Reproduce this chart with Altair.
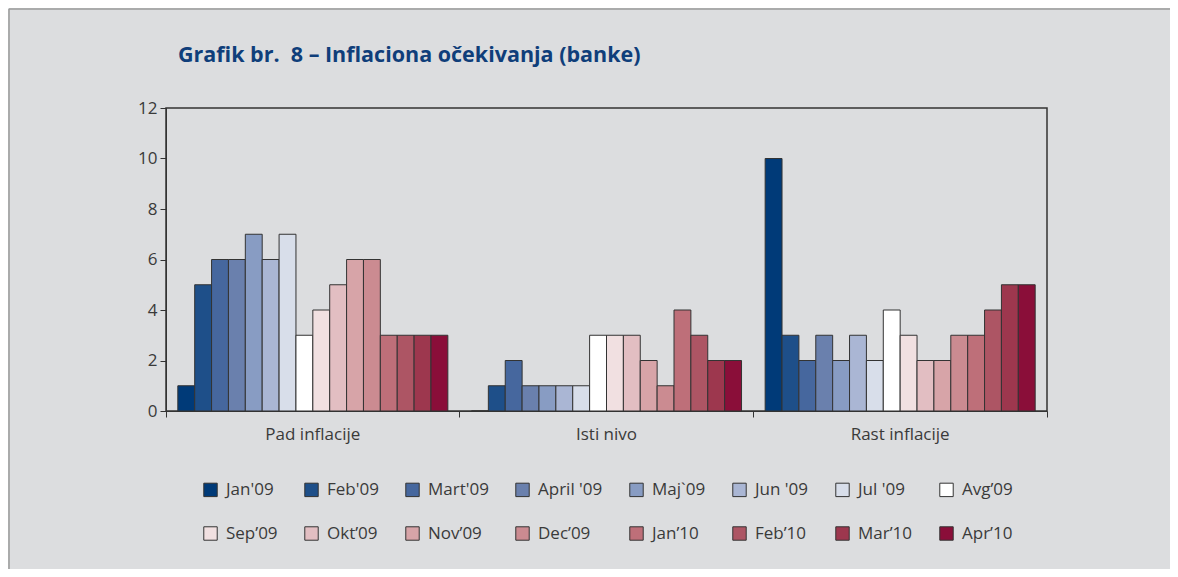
import altair as alt
import pandas as pd

categories = ["Pad inflacije", "Isti nivo", "Rast inflacije"]
series = ["Jan'09", "Feb'09", "Mart'09", "April '09", "Maj`09", "Jun '09", "Jul '09", "Avg’09",
          "Sep’09", "Okt’09", "Nov’09", "Dec’09", "Jan’10", "Feb’10", "Mar’10", "Apr’10"]
colors = ["#003a78", "#1e4f89", "#46679e", "#6a80ad", "#889cc3", "#aab6d4", "#d8deea", "#ffffff",
          "#f1e0e1", "#e2bec2", "#d7a4a8", "#cb8b91", "#be6f79", "#ad5564", "#9d374e", "#8a0e39"]
pad_inflacije = [1, 5, 6, 6, 7, 6, 7, 3, 4, 5, 6, 6, 3, 3, 3, 3]
isti_nivo = [0, 1, 2, 1, 1, 1, 1, 3, 3, 3, 2, 1, 4, 3, 2, 2]
rast_inflacije = [10, 3, 2, 3, 2, 3, 2, 4, 3, 2, 2, 3, 3, 4, 5, 5]
y_ticks = [0, 2, 4, 6, 8, 10, 12]
title_text = "Grafik br.\u00a0 8 – Inflaciona očekivanja (banke)"

rows = []
for cat, vals in zip(categories, [pad_inflacije, isti_nivo, rast_inflacije]):
    for s, v in zip(series, vals):
        rows.append({"kategorija": cat, "mjesec": s, "vrijednost": v})
df = pd.DataFrame(rows)

FONT = "Open Sans"
TXT = "#3a3a3a"

bars = alt.Chart(df).mark_bar(stroke="#333333", strokeWidth=1).encode(
    x=alt.X("kategorija:N", sort=categories, title=None,
            scale=alt.Scale(paddingInner=0, paddingOuter=0),
            axis=alt.Axis(labelAngle=0, bandPosition=1, tickExtra=True, tickSize=6,
                          labelFontSize=17, labelColor=TXT, labelPadding=9,
                          domainColor="#333333", tickColor="#333333", labelFont=FONT)),
    xOffset=alt.XOffset("mjesec:N", sort=series,
                        scale=alt.Scale(paddingInner=0, paddingOuter=0.7)),
    y=alt.Y("vrijednost:Q", title=None,
            scale=alt.Scale(domain=[0, 12], nice=False),
            axis=alt.Axis(values=y_ticks, grid=False, tickSize=6, labelFontSize=17,
                          labelColor=TXT, labelPadding=3, domainColor="#333333",
                          tickColor="#333333", labelFont=FONT)),
    color=alt.Color("mjesec:N", sort=series, title=None,
                    scale=alt.Scale(domain=series, range=colors),
                    legend=alt.Legend(orient="none", legendX=36, legendY=373, columns=8,
                                      direction="horizontal",
                                      symbolType="square", symbolSize=180,
                                      symbolStrokeColor="#333333", symbolStrokeWidth=1,
                                      labelFontSize=17, labelColor=TXT, labelFont=FONT,
                                      labelOffset=7, columnPadding=24, rowPadding=25,
                                      labelLimit=200)),
)

one = alt.Data(values=[{"a": 1}])
border_top = alt.Chart(one).mark_rule(color="#9a9a9a", strokeWidth=1.5).encode(
    x=alt.value(-157), x2=alt.value(1100), y=alt.value(-99))
border_left = alt.Chart(one).mark_rule(color="#9a9a9a", strokeWidth=1.5).encode(
    x=alt.value(-157), y=alt.value(-99), y2=alt.value(500))
title = alt.Chart(one).mark_text(align="left", baseline="alphabetic", font=FONT,
                                 fontSize=21.5, fontWeight="bold", color="#0f3e7a").encode(
    x=alt.value(12), y=alt.value(-46), text=alt.value(title_text))

chart = alt.layer(bars, border_top, border_left, title).properties(
    width=881, height=303,
    padding={"left": 158, "top": 100, "right": 123, "bottom": 158},
    autosize=alt.AutoSizeParams(type="none"),
    background="#dcdddf",
).configure_view(stroke="#333333", strokeWidth=1.5)

chart.save("out.html", embed_options={"renderer": "svg", "actions": False})
